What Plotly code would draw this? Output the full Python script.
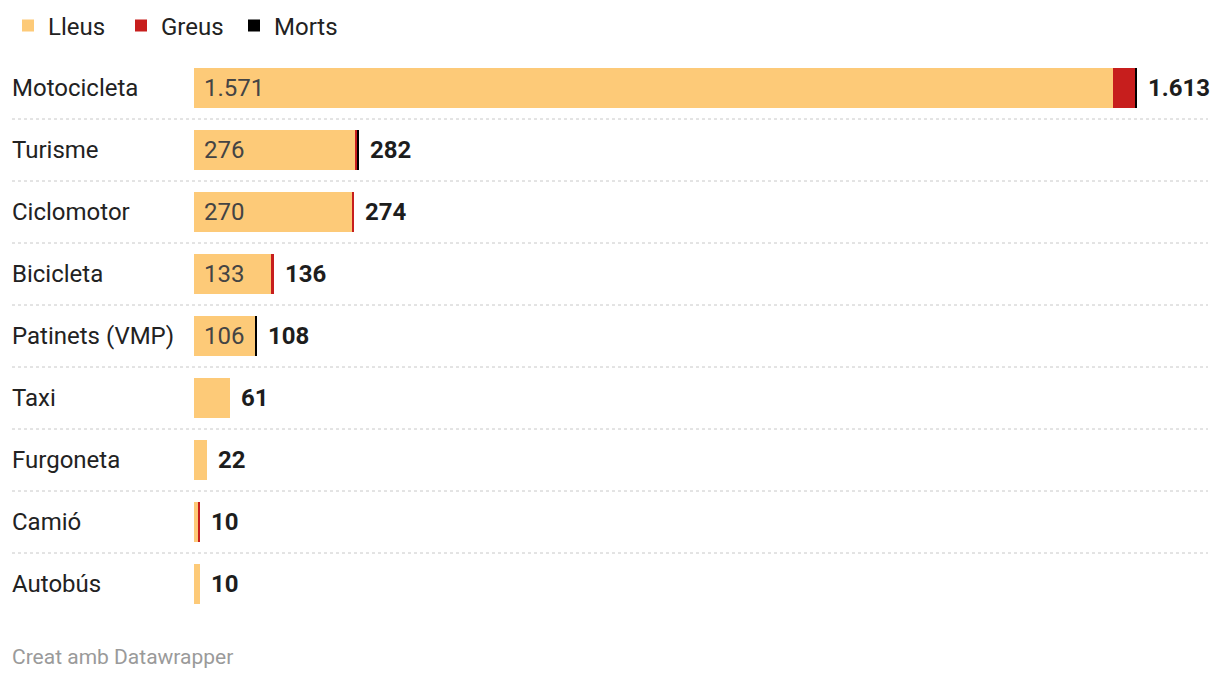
import plotly.graph_objects as go

# Dades: ferits per tipus de vehicle
categories = ["Motocicleta", "Turisme", "Ciclomotor", "Bicicleta", "Patinets (VMP)",
              "Taxi", "Furgoneta", "Camió", "Autobús"]
lleus = [1571, 276, 270, 133, 106, 61, 22, 7, 10]
greus = [38, 4, 4, 3, 0, 0, 0, 3, 0]
morts = [4, 2, 0, 0, 2, 0, 0, 0, 0]
totals = [l + g + m for l, g, m in zip(lleus, greus, morts)]

series_names = ["Lleus", "Greus", "Morts"]
series_colors = ["#fdca78", "#c71e1d", "#000000"]

FONT = "Roboto"
# la pàgina té 8 px de marge al body
FIG_W, FIG_H = 1212, 674
LEFT, RIGHT, TOP, BOTTOM = 186, 12, 49, 67
PLOT_W = FIG_W - LEFT - RIGHT
PLOT_H = FIG_H - TOP - BOTTOM
label_x = (2 - LEFT) / PLOT_W


def fmt(v):
    return f"{v:,}".replace(",", ".")


fig = go.Figure()
for name, vals, col in zip(series_names, [lleus, greus, morts], series_colors):
    fig.add_trace(go.Bar(
        y=categories, x=vals, name=name, orientation="h",
        marker=dict(color=col, line=dict(width=0)),
        hoverinfo="skip",
    ))

annotations = []
for cat, l, t in zip(categories, lleus, totals):
    # nom de la categoria
    annotations.append(dict(
        x=label_x, xref="paper", y=cat, yref="y", text=cat,
        xanchor="left", yanchor="middle", showarrow=False,
        font=dict(family=FONT, size=24, color="#222"),
    ))
    # valor lleus dins la barra
    if l >= 100:
        annotations.append(dict(
            x=0, xref="x", y=cat, yref="y", text=fmt(l), xshift=8,
            xanchor="left", yanchor="middle", showarrow=False,
            font=dict(family=FONT, size=24, color="#444"),
        ))
    # total
    annotations.append(dict(
        x=t, xref="x", y=cat, yref="y", text=f"<b>{fmt(t)}</b>", xshift=9,
        xanchor="left", yanchor="middle", showarrow=False,
        font=dict(family=FONT, size=24, color="#1d1d1d"),
    ))

annotations.append(dict(
    x=label_x, xref="paper", y=-42 / PLOT_H, yref="paper",
    text="Creat amb Datawrapper", xanchor="left", yanchor="middle",
    showarrow=False, font=dict(family=FONT, size=21, color="#9a9a9a"),
))

# línies de separació puntejades entre files
shapes = []
for i in range(len(categories) - 1):
    shapes.append(dict(
        type="line", xref="paper", yref="y",
        x0=(4 - LEFT) / PLOT_W, x1=1.0, y0=i + 0.5, y1=i + 0.5,
        line=dict(color="#c8c8c8", width=1, dash="dot"),
        layer="below",
    ))

fig.update_layout(
    barmode="stack",
    bargap=0.355,
    width=FIG_W, height=FIG_H,
    margin=dict(l=LEFT, r=RIGHT, t=TOP, b=BOTTOM),
    paper_bgcolor="white",
    plot_bgcolor="white",
    font=dict(family=FONT, size=24, color="#222"),
    xaxis=dict(visible=False, range=[0, 1734], fixedrange=True),
    yaxis=dict(visible=False, range=[len(categories) - 0.5, -0.5],
               categoryorder="array", categoryarray=categories, fixedrange=True),
    legend=dict(
        orientation="h", xref="container", yref="container",
        x=-3 / FIG_W, xanchor="left", y=1 - 18 / FIG_H, yanchor="middle",
        entrywidth=68,
        font=dict(family=FONT, size=24, color="#222"),
        traceorder="normal", itemclick=False, itemdoubleclick=False,
    ),
    annotations=annotations,
    shapes=shapes,
    showlegend=True,
)

fig.write_html("out.html", config={"displayModeBar": False})
